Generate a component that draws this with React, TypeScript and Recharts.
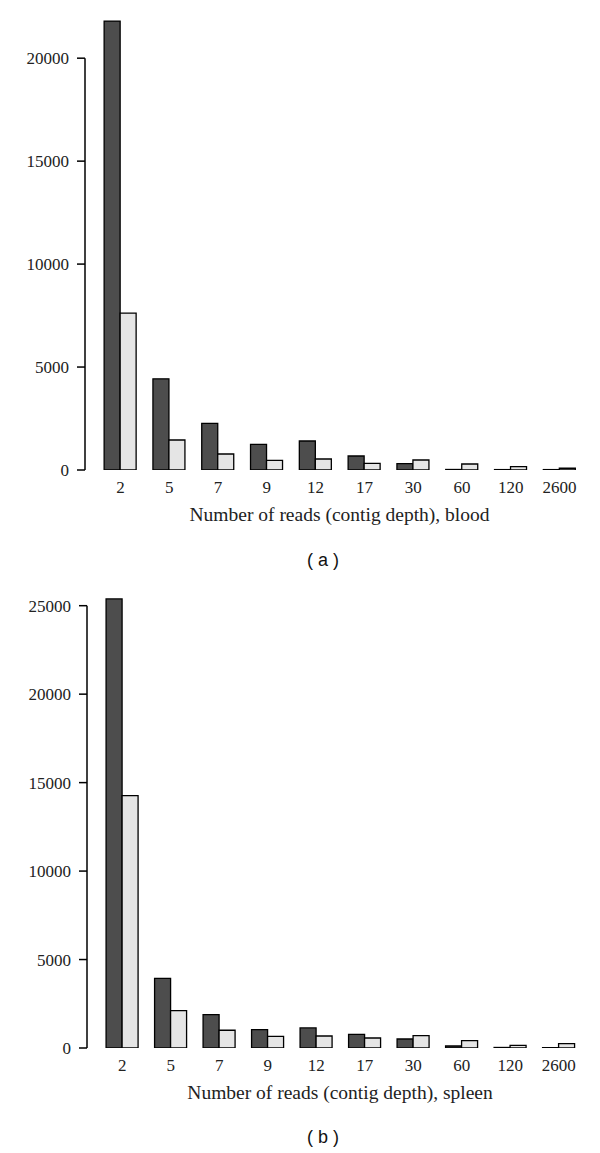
import React from 'react';
import { BarChart, Bar, XAxis, YAxis, ReferenceLine, Label } from 'recharts';

const categories = ['2', '5', '7', '9', '12', '17', '30', '60', '120', '2600'];
const bloodDark = [21800, 4430, 2265, 1246, 1408, 680, 306, 25, 20, 20];
const bloodLight = [7620, 1456, 777, 470, 534, 325, 485, 291, 160, 85];
const spleenDark = [25380, 3930, 1890, 1041, 1132, 775, 509, 113, 30, 20];
const spleenLight = [14260, 2117, 1002, 662, 679, 566, 702, 419, 153, 249];
const bloodTicks = [0, 5000, 10000, 15000, 20000];
const spleenTicks = [0, 5000, 10000, 15000, 20000, 25000];

const SERIF = '"Liberation Serif", "DejaVu Serif", serif';

type PanelProps = {
  dark: number[];
  light: number[];
  ticks: number[];
  yMax: number;
  title: string;
  top: number;
  height: number;
  marginTop: number;
  marginRight: number;
  yWidth: number;
  padLeft: number;
};

function Panel(p: PanelProps) {
  const data = categories.map((c, i) => ({ cat: c, dark: p.dark[i], light: p.light[i] }));
  return (
    <div style={{ position: 'absolute', left: 0, top: p.top }}>
      <BarChart
        width={600}
        height={p.height}
        data={data}
        margin={{ top: p.marginTop, right: p.marginRight, bottom: 0, left: 0 }}
        barCategoryGap="16.667%"
        barGap={0}
      >
        <XAxis
          dataKey="cat"
          interval={0}
          axisLine={false}
          tickLine={false}
          tickSize={6}
          tickMargin={5}
          height={62}
          padding={{ left: p.padLeft, right: 0 }}
          tick={{ fontSize: 17, fontFamily: SERIF, fill: '#222' }}
        >
          <Label
            value={p.title}
            position="insideBottom"
            offset={11}
            dx={5}
            style={{ fontSize: 19.5, fontFamily: SERIF, fill: '#222' }}
          />
        </XAxis>
        <XAxis xAxisId="n" type="number" domain={[0, 1]} allowDataOverflow hide />
        <YAxis
          width={p.yWidth}
          domain={[0, p.yMax]}
          allowDataOverflow
          ticks={p.ticks}
          interval={0}
          axisLine={false}
          tickLine={{ stroke: '#000', strokeWidth: 1.5 }}
          tickSize={8}
          tickMargin={8}
          tick={{ fontSize: 17, fontFamily: SERIF, fill: '#222' }}
        />
        <ReferenceLine
          xAxisId="n"
          segment={[
            { x: 0, y: 0 },
            { x: 0, y: p.ticks[p.ticks.length - 1] },
          ]}
          stroke="#000"
          strokeWidth={1.5}
        />
        <Bar dataKey="dark" fill="#4d4d4d" stroke="#000" strokeWidth={1.3} isAnimationActive={false} />
        <Bar dataKey="light" fill="#e5e5e5" stroke="#000" strokeWidth={1.3} isAnimationActive={false} />
      </BarChart>
    </div>
  );
}

const captionStyle: React.CSSProperties = {
  position: 'absolute',
  transform: 'translateX(-50%)',
  fontFamily: '"Liberation Sans", Arial, sans-serif',
  fontSize: 18,
  color: '#111',
  whiteSpace: 'pre',
  lineHeight: '20px',
};

export default function App() {
  return (
    <div style={{ position: 'absolute', left: 0, top: 0, width: 600, height: 1153, background: '#fff' }}>
      <Panel
        dark={bloodDark}
        light={bloodLight}
        ticks={bloodTicks}
        yMax={22000}
        title="Number of reads (contig depth), blood"
        top={0}
        height={532}
        marginTop={17}
        marginRight={16}
        yWidth={85}
        padLeft={11}
      />
      <div style={{ ...captionStyle, left: 323, top: 550 }}>( a )</div>
      <Panel
        dark={spleenDark}
        light={spleenLight}
        ticks={spleenTicks}
        yMax={26000}
        title="Number of reads (contig depth), spleen"
        top={580}
        height={530}
        marginTop={8}
        marginRight={17}
        yWidth={87}
        padLeft={11}
      />
      <div style={{ ...captionStyle, left: 323, top: 1127 }}>( b )</div>
    </div>
  );
}
